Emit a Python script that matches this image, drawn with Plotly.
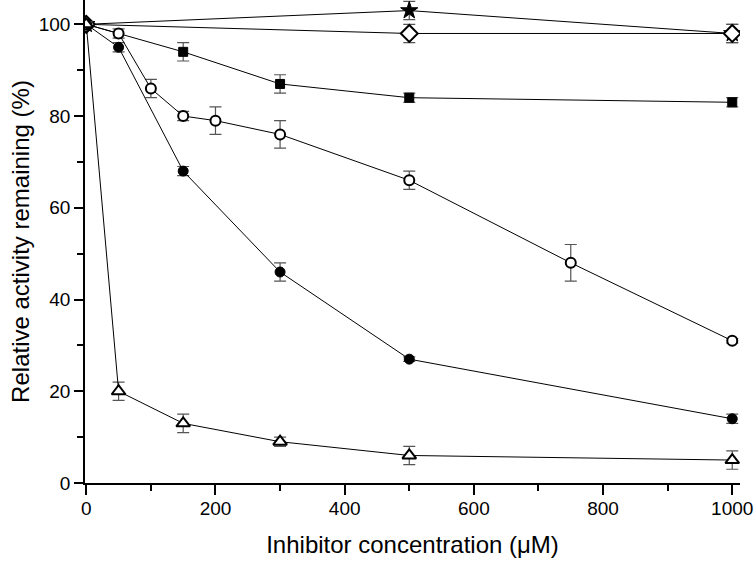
import plotly.graph_objects as go

# Data
x_open = [0, 50, 100, 150, 200, 300, 500, 750, 1000]
y_open = [100, 98, 86, 80, 79, 76, 66, 48, 31]
e_open = [0.5, 1, 2, 1, 3, 3, 2, 4, 0.5]

x_fill = [0, 50, 150, 300, 500, 1000]
y_fill = [100, 95, 68, 46, 27, 14]
e_fill = [0.5, 1, 1, 2, 0.5, 1]

x_sq = [0, 150, 300, 500, 1000]
y_sq = [100, 94, 87, 84, 83]
e_sq = [0.5, 2, 2, 1, 1]

x_tri = [0, 50, 150, 300, 500, 1000]
y_tri = [100, 20, 13, 9, 6, 5]
e_tri = [0.5, 2, 2, 1, 2, 2]

x_dia = [0, 500, 1000]
y_dia = [100, 98, 98]
e_dia = [0.5, 2, 2]

x_star = [0, 500, 1000]
y_star = [100, 103, 98]
e_star = [0.5, 2, 2]

fig = go.Figure()

def add(x, y, e, symbol, fill, size=10):
    fig.add_trace(go.Scatter(
        x=x, y=y, mode="lines+markers",
        line=dict(color="black", width=1),
        marker=dict(symbol=symbol, size=size, color=fill,
                    line=dict(color="black", width=2 if fill == "white" else 1)),
        error_y=dict(type="data", array=e, visible=True, color="#555555",
                     thickness=1.2, width=6),
        showlegend=False,
    ))

add(x_star, y_star, e_star, "star", "black", 13)
add(x_dia, y_dia, e_dia, "diamond", "white", 13)
add(x_sq, y_sq, e_sq, "square", "black", 9)
add(x_fill, y_fill, e_fill, "circle", "black", 10)
add(x_open, y_open, e_open, "circle", "white", 10)
add(x_tri, y_tri, e_tri, "triangle-up", "white", 12)

font = "Liberation Sans, Arial, sans-serif"
fig.update_layout(
    width=756, height=561,
    margin=dict(l=85, r=16, t=0, b=78, autoexpand=False),
    plot_bgcolor="white", paper_bgcolor="white",
    font=dict(family=font, color="black", size=19),
    xaxis=dict(
        range=[-2, 1012], tickvals=[0, 200, 400, 600, 800, 1000],
        ticks="outside", ticklen=10, tickwidth=1.5, tickcolor="black",
        showline=True, linecolor="black", linewidth=1.5,
        showgrid=False, zeroline=False, automargin=False,
        ticklabelstandoff=-3,
        minor=dict(dtick=100, tick0=0, ticks="outside", ticklen=6,
                   tickwidth=1.5, tickcolor="black", showgrid=False),
        title=dict(text="Inhibitor concentration (μM)", font=dict(size=24), standoff=19),
    ),
    yaxis=dict(
        range=[0, 105.3], tickvals=[0, 20, 40, 60, 80, 100],
        ticks="outside", ticklen=9, tickwidth=1.5, tickcolor="black",
        showline=True, linecolor="black", linewidth=1.5,
        showgrid=False, zeroline=False, automargin=False,
        minor=dict(dtick=10, tick0=0, ticks="outside", ticklen=6,
                   tickwidth=1.5, tickcolor="black", showgrid=False),
        title=dict(text="Relative activity remaining (%)", font=dict(size=24), standoff=2),
    ),
)

fig.write_html("out.html",
               config={"displayModeBar": False},
               post_script="document.body.style.margin='0';document.body.style.overflow='hidden';")
